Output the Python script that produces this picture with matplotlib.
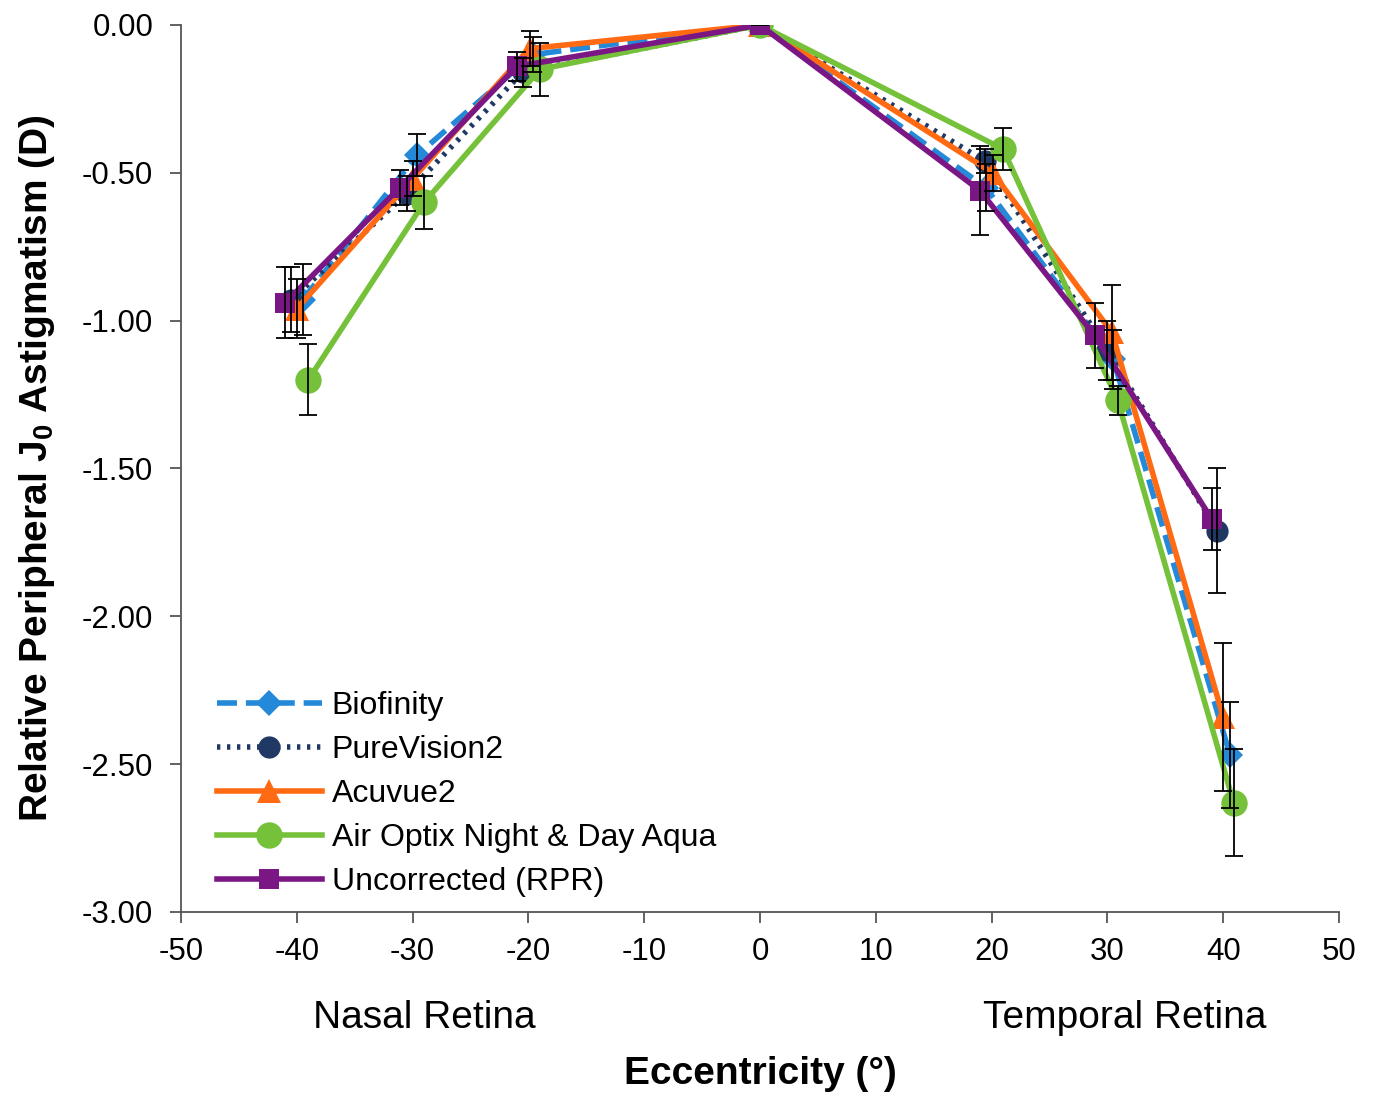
# Relative peripheral J0 astigmatism vs eccentricity for several contact lenses

import matplotlib
matplotlib.use("Agg")
import matplotlib.pyplot as plt


# eccentricity (deg) per series - slightly offset in the original so bars don't overlap
x_biofinity = [-39.5, -29.6, -19.6, 0, 19.5, 30.5, 40.6]
x_purevision = [-40.5, -30.5, -20.5, 0, 19.4, 30.0, 39.5]
x_acuvue = [-40.0, -30.0, -19.9, 0, 20.1, 30.4, 40.0]
x_airoptix = [-39.0, -29.0, -19.0, 0, 21.0, 30.9, 40.9]
x_uncorrected = [-41.0, -31.1, -21.0, 0, 19.0, 28.9, 39.0]

y_biofinity = [-0.93, -0.44, -0.10, 0.00, -0.55, -1.13, -2.47]
y_purevision = [-0.93, -0.57, -0.16, 0.00, -0.46, -1.10, -1.71]
y_acuvue = [-0.96, -0.52, -0.08, 0.00, -0.50, -1.04, -2.34]
y_airoptix = [-1.20, -0.60, -0.15, 0.00, -0.42, -1.27, -2.63]
y_uncorrected = [-0.94, -0.55, -0.14, 0.00, -0.56, -1.05, -1.67]

err_biofinity = [0.12, 0.07, 0.06, 0.0, 0.08, 0.10, 0.18]
err_purevision = [0.11, 0.06, 0.05, 0.0, 0.04, 0.10, 0.21]
err_acuvue = [0.10, 0.06, 0.06, 0.0, 0.06, 0.16, 0.25]
err_airoptix = [0.12, 0.09, 0.09, 0.0, 0.07, 0.05, 0.18]
err_uncorrected = [0.12, 0.06, 0.05, 0.0, 0.15, 0.11, 0.105]

labels = ["Biofinity", "PureVision2", "Acuvue2",
          "Air Optix Night & Day Aqua", "Uncorrected (RPR)"]

x_ticks = [-50, -40, -30, -20, -10, 0, 10, 20, 30, 40, 50]
y_ticks = [0.0, -0.5, -1.0, -1.5, -2.0, -2.5, -3.0]


plt.rcParams["font.family"] = ["Liberation Sans", "DejaVu Sans"]
plt.rcParams["axes.unicode_minus"] = False

fig = plt.figure(figsize=(13.74, 10.96), dpi=100)
ax = fig.add_axes([0.1317, 0.1679, 0.8428, 0.8093])

styles = [
    dict(color="#2389D8", ls=(0, (3.6, 1.6)), marker="D", ms=13),
    dict(color="#1F3864", ls=(0, (0.6, 1.2)), marker="o", ms=16),
    dict(color="#FF6A13", ls="-", marker="^", ms=17),
    dict(color="#76C13A", ls="-", marker="o", ms=19),
    dict(color="#7B1685", ls="-", marker="s", ms=15),
]

xs = [x_biofinity, x_purevision, x_acuvue, x_airoptix, x_uncorrected]
ys = [y_biofinity, y_purevision, y_acuvue, y_airoptix, y_uncorrected]
errs = [err_biofinity, err_purevision, err_acuvue, err_airoptix, err_uncorrected]

for i, (x, y, e, st, lab) in enumerate(zip(xs, ys, errs, styles, labels)):
    ax.errorbar(x, y, yerr=e, fmt="none", ecolor="black", elinewidth=1.3,
                capsize=6.5, capthick=1.3, zorder=10 + i)
    ax.plot(x, y, color=st["color"], linestyle=st["ls"], linewidth=4,
            marker=st["marker"], markersize=st["ms"], markeredgewidth=0,
            label=lab, zorder=3 + i)

ax.set_xlim(-50, 50)
ax.set_ylim(-3.0, 0.0)
ax.set_xticks(x_ticks)
ax.set_yticks(y_ticks)
ax.set_yticklabels([f"{v:.2f}" for v in y_ticks])

for side in ["top", "right"]:
    ax.spines[side].set_visible(False)
for side in ["left", "bottom"]:
    ax.spines[side].set_color("#555555")
    ax.spines[side].set_linewidth(1.3)

ax.tick_params(axis="both", direction="out", length=8, width=1.3,
               color="#555555", labelsize=22.5)
ax.tick_params(axis="y", pad=12)
ax.tick_params(axis="x", pad=10)

ax.set_ylabel("Relative Peripheral J$_\\mathregular{0}$ Astigmatism (D)",
              fontsize=28, fontweight="bold", labelpad=18)
ax.set_xlabel("Eccentricity (°)", fontsize=28, fontweight="bold", labelpad=64)

ax.text(-29, -3.36, "Nasal Retina", fontsize=28, ha="center", va="center")
ax.text(31.5, -3.36, "Temporal Retina", fontsize=28, ha="center", va="center")

ax.legend(loc="lower left", bbox_to_anchor=(0.006, -0.016), frameon=False,
          fontsize=23, handlelength=3.3, handletextpad=0.3,
          labelspacing=0.44)

plt.savefig("out.png", dpi=100)
plt.close(fig)
